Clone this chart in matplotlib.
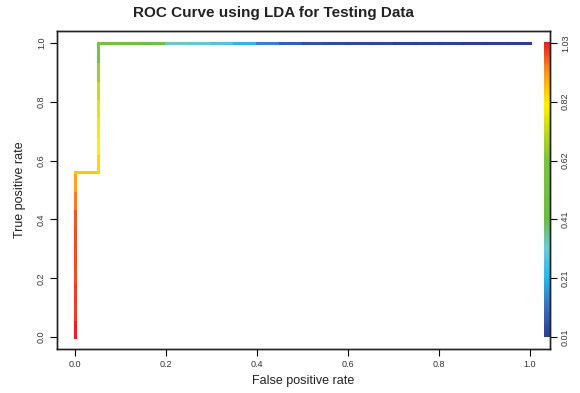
import numpy as np
import matplotlib
matplotlib.use("Agg")
import matplotlib.pyplot as plt
from matplotlib.collections import LineCollection
from matplotlib.colors import LinearSegmentedColormap, Normalize

plt.rcParams['font.family'] = ['Liberation Sans', 'DejaVu Sans']

# ROC points (false positive rate, true positive rate) and their cutoffs
fpr = [0.0, 0.0, 0.0, 0.0, 0.0, 0.0, 0.0, 0.0, 0.0, 0.0,
       0.05, 0.05, 0.05, 0.05, 0.05, 0.05, 0.05, 0.05,
       0.10, 0.15, 0.20, 0.25, 0.30, 0.35, 0.40, 0.45, 0.50, 0.55,
       0.60, 0.65, 0.70, 0.75, 0.80, 0.85, 0.90, 0.95, 1.00]
tpr = [0.0, 0.0625, 0.125, 0.1875, 0.25, 0.3125, 0.375, 0.4375, 0.5, 0.5625,
       0.5625, 0.625, 0.6875, 0.75, 0.8125, 0.875, 0.9375, 1.0,
       1.0, 1.0, 1.0, 1.0, 1.0, 1.0, 1.0, 1.0, 1.0, 1.0,
       1.0, 1.0, 1.0, 1.0, 1.0, 1.0, 1.0, 1.0, 1.0]
cutoffs = [1.03, 1.00, 1.00, 0.99, 0.99, 0.99, 0.98, 0.95, 0.91, 0.87,
           0.85, 0.81, 0.79, 0.77, 0.72, 0.67, 0.60, 0.55,
           0.50, 0.45, 0.33, 0.30, 0.28, 0.22, 0.14, 0.08, 0.05, 0.04,
           0.03, 0.03, 0.02, 0.02, 0.02, 0.01, 0.01, 0.01, 0.01]

x_ticks = [0.0, 0.2, 0.4, 0.6, 0.8, 1.0]
y_ticks = [0.0, 0.2, 0.4, 0.6, 0.8, 1.0]
cut_labels = ["0.01", "0.21", "0.41", "0.62", "0.82", "1.03"]

title = "ROC Curve using LDA for Testing Data"
xlabel = "False positive rate"
ylabel = "True positive rate"

cmap = LinearSegmentedColormap.from_list("roc", [
    (0.00, "#2c3e91"),
    (0.10, "#3a6fc2"),
    (0.20, "#2ab6e9"),
    (0.30, "#6ccbd6"),
    (0.40, "#6cbd45"),
    (0.60, "#7dc242"),
    (0.79, "#fff200"),
    (0.90, "#f7961d"),
    (1.00, "#ec1c24"),
])
cmin, cmax = min(cutoffs), max(cutoffs)
norm = Normalize(vmin=cmin, vmax=cmax)

fig = plt.figure(figsize=(5.8, 3.93), dpi=100)
ax = fig.add_axes([57/580, 1 - 349/393, (550-57)/580, (349-31)/393])

pts = np.column_stack([fpr, tpr])
segs = np.stack([pts[:-1], pts[1:]], axis=1)
lc = LineCollection(segs, colors=cmap(norm(np.array(cutoffs[:-1]))), linewidths=2.2,
                    capstyle='projecting')
ax.add_collection(lc)

# color bar inside plot region on right
grad = np.linspace(0, 1, 256).reshape(-1, 1)
ax.imshow(grad, cmap=cmap, aspect='auto', origin='lower',
          extent=[1.031, 1.044, 0, 1], zorder=2)
ax.set_xlim(-0.04, 1.044)
ax.set_ylim(-0.04, 1.04)

ax.set_xticks(x_ticks)
ax.set_xticklabels([f"{v:.1f}" for v in x_ticks])
ax.set_yticks(y_ticks)
ax.set_yticklabels([f"{v:.1f}" for v in y_ticks], rotation=90, va='center')
ax.tick_params(axis='both', direction='out', length=5, width=0.8,
               labelsize=6.5, labelcolor='#333333', pad=3)

ax2 = ax.twinx()
ax2.set_ylim(-0.04, 1.04)
ax2.set_yticks(np.linspace(0, 1, len(cut_labels)))
ax2.set_yticklabels(cut_labels, rotation=90, va='center')
ax2.tick_params(axis='y', direction='out', length=5, width=0.8,
                labelsize=6.5, labelcolor='#333333', pad=3)

for a in (ax, ax2):
    for s in a.spines.values():
        s.set_linewidth(1.0)
        s.set_color('#222222')

fig.text(273/580, 1 - 13/393, title, ha='center', va='center',
         fontsize=11, fontweight='bold', color='#222222')
fig.text(303/580, 1 - 381/393, xlabel, ha='center', va='center',
         fontsize=9, color='#222222')
fig.text(20/580, 1 - 190/393, ylabel, ha='center', va='center',
         fontsize=9, color='#222222', rotation=90)

fig.savefig("out.png", dpi=100)
